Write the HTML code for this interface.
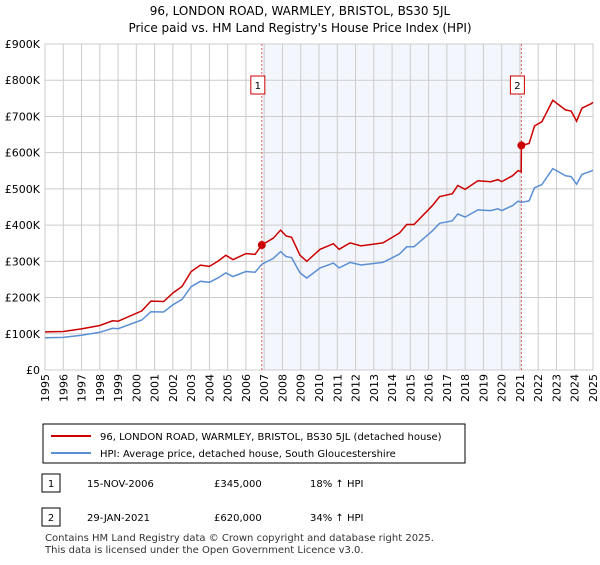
<!DOCTYPE html>
<html><head><meta charset="utf-8"><style>
body{margin:0;background:#fff;font-family:"Liberation Sans","DejaVu Sans",sans-serif;}
svg text{font-family:"DejaVu Sans","Liberation Sans",sans-serif;}
</style></head><body>
<svg width="600" height="560" xmlns="http://www.w3.org/2000/svg">
<text x="300" y="15" text-anchor="middle" font-size="12">96, LONDON ROAD, WARMLEY, BRISTOL, BS30 5JL</text>
<text x="300" y="32" text-anchor="middle" font-size="12">Price paid vs. HM Land Registry's House Price Index (HPI)</text>
<g id="plot"></g>
<g>
<rect x="43" y="424" width="422" height="39" fill="#fff" stroke="#000" stroke-width="1"/>
<line x1="51" y1="436" x2="91" y2="436" stroke="#cc0000" stroke-width="2"/>
<text x="100" y="440" font-size="10">96, LONDON ROAD, WARMLEY, BRISTOL, BS30 5JL (detached house)</text>
<line x1="51" y1="453" x2="91" y2="453" stroke="#5b8fd4" stroke-width="2"/>
<text x="100" y="457" font-size="10">HPI: Average price, detached house, South Gloucestershire</text>
</g>
<g font-size="10">
<rect x="42" y="474" width="18" height="18" fill="#fff" stroke="#000"/>
<text x="51" y="487" text-anchor="middle">1</text>
<text x="87" y="487">15-NOV-2006</text><text x="214" y="487">£345,000</text><text x="310" y="487">18% ↑ HPI</text>
<rect x="42" y="508" width="18" height="18" fill="#fff" stroke="#000"/>
<text x="51" y="521" text-anchor="middle">2</text>
<text x="87" y="521">29-JAN-2021</text><text x="214" y="521">£620,000</text><text x="310" y="521">34% ↑ HPI</text>
</g>
<text x="45" y="541" font-size="10" fill="#333">Contains HM Land Registry data © Crown copyright and database right 2025.</text>
<text x="45" y="553" font-size="10" fill="#333">This data is licensed under the Open Government Licence v3.0.</text>
</svg>
<script>
const years=[1995,1996,1997,1998,1998.7,1999,2000.3,2000.8,2001.5,2002,2002.5,2003,2003.5,2004,2004.5,2004.9,2005.3,2006,2006.5,2006.87,2007.5,2007.9,2008.2,2008.5,2008.96,2009.33,2010.06,2010.79,2011.1,2011.7,2012.3,2013.5,2014.4,2014.8,2015.2,2016.2,2016.6,2017.3,2017.6,2018.0,2018.7,2019.4,2019.8,2020.0,2020.6,2020.9,2021.08,2021.5,2021.8,2022.2,2022.8,2023.5,2023.8,2024.1,2024.4,2024.9,2025.0];
const hpi=[89000,90000,96000,104000,115000,114000,138000,161000,160000,180000,195000,230000,245000,242000,255000,268000,258000,272000,270000,292000,308000,327000,313000,310000,268000,254000,282000,295000,282000,297000,290000,297000,320000,340000,340000,384000,405000,412000,431000,422000,442000,440000,445000,440000,454000,466000,463000,467000,503000,512000,556000,536000,534000,513000,540000,549000,552000];
const saleYears=[2006.87,2021.08];
const salePrices=[345000,620000];
const yTicks=[0,100000,200000,300000,400000,500000,600000,700000,800000,900000];
const yTickLabels=["£0","£100K","£200K","£300K","£400K","£500K","£600K","£700K","£800K","£900K"];
const xTicks=[];for(let y=1995;y<=2025;y++)xTicks.push(y);

const L=45,R=593,T=44,B=370;
const X=v=>L+(v-1995)/30*(R-L);
const Y=v=>B-v/900000*(B-T);
const NS="http://www.w3.org/2000/svg";
const g=document.getElementById('plot');
function mk(t,a,p){const e=document.createElementNS(NS,t);for(const k in a)e.setAttribute(k,a[k]);(p||g).appendChild(e);return e;}
const sh=mk('rect',{x:X(saleYears[0]),y:T,width:X(saleYears[1])-X(saleYears[0]),height:B-T,fill:'#eef2fb',opacity:0.7});


xTicks.forEach(y=>{
 const l=mk('line',{x1:X(y),x2:X(y),y1:T,y2:B,stroke:'#cccccc','stroke-width':1});
 
 
 const wrap=mk('g',{transform:'translate('+(X(y)+4)+','+(B+4)+') rotate(-90)'});
 const t=mk('text',{x:0,y:0,'font-size':11,'text-anchor':'end'},wrap);
 t.textContent=y;
 
 
});
yTicks.forEach((v,i)=>{
 const l=mk('line',{x1:L,x2:R,y1:Y(v),y2:Y(v),stroke:'#cccccc','stroke-width':1});
 
 
 const t=mk('text',{x:L-5,y:Y(v)+4,'font-size':11,'text-anchor':'end'});
 t.textContent=yTickLabels[i];
 
 
});
const ax=mk('rect',{x:L,y:T,width:R-L,height:B-T,fill:'none',stroke:'#cccccc'});


saleYears.forEach((s,i)=>{
 const l=mk('line',{x1:X(s),x2:X(s),y1:T,y2:B,stroke:'#e06060','stroke-dasharray':'2,2','stroke-width':1});
 
 
 const bx=X(s)-10;
 const r=mk('rect',{x:bx-1,y:76,width:14,height:18,fill:'#fff',stroke:'#cc0000'});
 
 
 const t=mk('text',{x:bx+6,y:89,'font-size':10,'text-anchor':'middle'});
 t.textContent=String(i+1);
 
 
});
function hpiAt(t){for(let i=1;i<years.length;i++){if(years[i]>=t){const f=(t-years[i-1])/(years[i]-years[i-1]);return hpi[i-1]+f*(hpi[i]-hpi[i-1]);}}return hpi[hpi.length-1];}
const r1=salePrices[0]/hpiAt(saleYears[0]),r2=salePrices[1]/hpiAt(saleYears[1]);
const bp=years.map((y,i)=>X(y).toFixed(1)+','+Y(hpi[i]).toFixed(1)).join(' ');
const rp=years.map((y,i)=>{const r=y<saleYears[1]?r1:r2;return X(y).toFixed(1)+','+Y(hpi[i]*r).toFixed(1);});
const pre=X(saleYears[1]-0.01).toFixed(1)+','+Y(hpiAt(saleYears[1]-0.01)*r1).toFixed(1);
const idx=years.findIndex(y=>y>=saleYears[1]);
rp.splice(idx,0,pre);
const bl=mk('polyline',{points:bp,fill:'none',stroke:'#5b8fd4','stroke-width':1.5});


const rl=mk('polyline',{points:rp.join(' '),fill:'none',stroke:'#cc0000','stroke-width':1.5});


saleYears.forEach((s,i)=>{
 const c=mk('circle',{cx:X(s),cy:Y(salePrices[i]),r:4,fill:'#cc0000'});
 
 
});
</script>
</body></html>
